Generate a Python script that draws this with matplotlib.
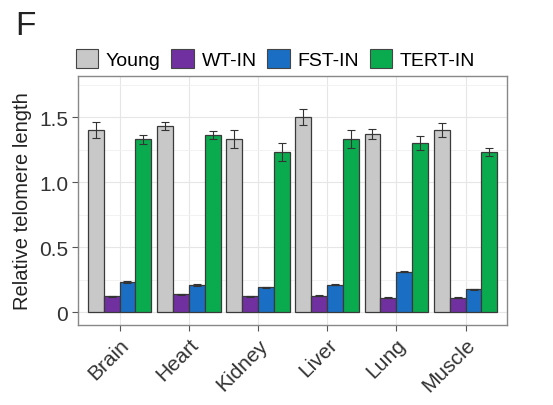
import numpy as np
import matplotlib
matplotlib.use("Agg")
from matplotlib import pyplot as plt
from matplotlib.patches import Patch
from matplotlib.transforms import ScaledTranslation

tissues = ["Brain", "Heart", "Kidney", "Liver", "Lung", "Muscle"]
groups = ["Young", "WT-IN", "FST-IN", "TERT-IN"]

young = [1.40, 1.43, 1.33, 1.50, 1.37, 1.40]
wt_in = [0.12, 0.135, 0.12, 0.125, 0.11, 0.11]
fst_in = [0.23, 0.21, 0.19, 0.21, 0.31, 0.175]
tert_in = [1.33, 1.36, 1.23, 1.33, 1.30, 1.23]

young_err = [0.06, 0.03, 0.07, 0.06, 0.035, 0.055]
wt_err = [0.005, 0.006, 0.005, 0.005, 0.005, 0.005]
fst_err = [0.005, 0.006, 0.005, 0.005, 0.005, 0.005]
tert_err = [0.035, 0.03, 0.07, 0.07, 0.055, 0.03]

colors = ["#c8c8c8", "#7030a0", "#1a6fc4", "#0aab4e"]

plt.rcParams['font.family'] = ['Liberation Sans', 'DejaVu Sans']

fig = plt.figure(figsize=(5.53, 4.06), dpi=100)
ax = fig.add_axes([0.141, 0.197, 0.776, 0.613])

x = np.arange(len(tissues))
width = 0.92 / 4
series = [young, wt_in, fst_in, tert_in]
errs = [young_err, wt_err, fst_err, tert_err]
for i, (vals, err, c) in enumerate(zip(series, errs, colors)):
    pos = x - 0.46 + width * (i + 0.5)
    ax.bar(pos, vals, width=width, color=c, edgecolor="#3a3a3a", linewidth=0.9, zorder=2)
    ax.errorbar(pos, vals, yerr=err, fmt="none", ecolor="#333333",
                elinewidth=0.8, capsize=3, capthick=0.8, zorder=3)

ax.set_xlim(-0.6, 5.6)
ax.set_ylim(-0.1, 1.815)
ax.set_yticks([0, 0.5, 1.0, 1.5])
ax.set_yticklabels(["0", "0.5", "1.0", "1.5"])
ax.set_yticks([0.25, 0.75, 1.25, 1.75], minor=True)
ax.set_xticks(x)
ax.set_xticklabels(tissues, rotation=45, ha="right", rotation_mode="anchor")
# nudge the rotated labels a bit right, like the original
shift = ScaledTranslation(6 / 100, 0, fig.dpi_scale_trans)
for lab in ax.get_xticklabels():
    lab.set_transform(lab.get_transform() + shift)
ax.grid(True, which="major", color="#e6e6e6", linewidth=0.8, zorder=0)
ax.grid(True, which="minor", axis="y", color="#f0f0f0", linewidth=0.6, zorder=0)
ax.set_axisbelow(True)
ax.tick_params(axis="y", which="minor", length=0)
ax.tick_params(axis="both", which="major", length=4, color="#555555",
               labelsize=15, labelcolor="#333333", pad=3)
for s in ax.spines.values():
    s.set_color("#888888")
    s.set_linewidth(1.0)

ax.set_ylabel("Relative telomere length", fontsize=14.5, color="#222222", labelpad=5)

handles = [Patch(facecolor=c, edgecolor="#444444", linewidth=0.8) for c in colors]
fig.legend(handles, groups, loc="center", bbox_to_anchor=(0.498, 0.852), ncol=4,
           frameon=False, fontsize=14, handlelength=1.15, handleheight=1.15,
           handletextpad=0.4, columnspacing=0.55, borderaxespad=0)

fig.text(0.027, 0.915, "F", fontsize=24, color="#222222")

fig.savefig("out.png", dpi=100)
